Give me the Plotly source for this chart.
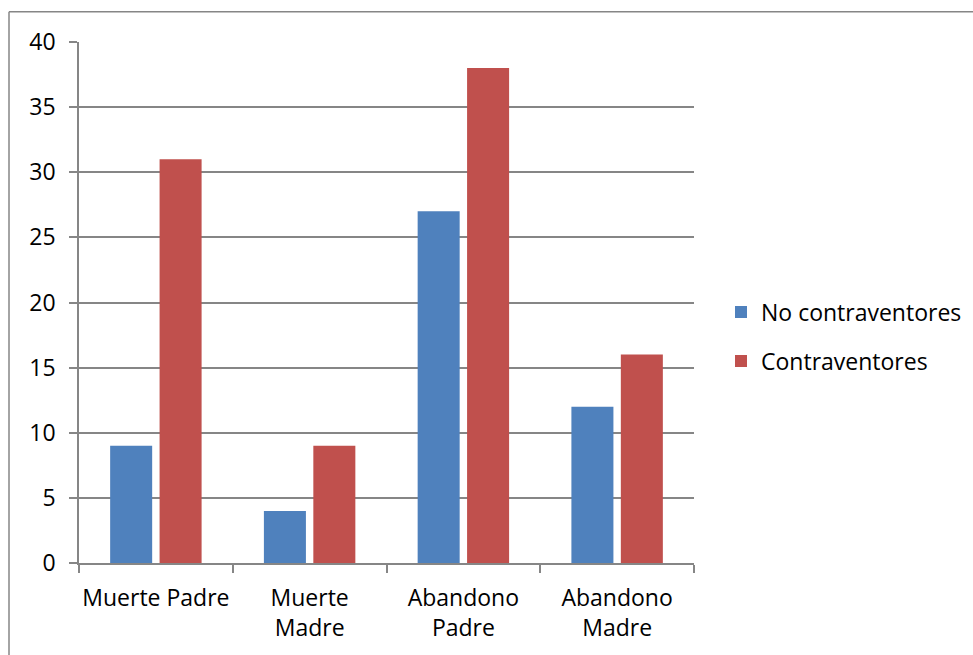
import plotly.graph_objects as go

categories = ["Muerte Padre", "Muerte<br>Madre", "Abandono<br>Padre", "Abandono<br>Madre"]
no_contraventores = [9, 4, 27, 12]
contraventores = [31, 9, 38, 16]

W, H = 973, 655
X0, X1 = 79, 694
Y0, Y1 = 42, 562.7
L, R, T, B = X0, W - X1, Y0, H - Y1
pw, ph = X1 - X0, Y1 - Y0

GRAY = "#868686"
FONT = "Open Sans, Liberation Sans, sans-serif"
FS = 23

fig = go.Figure()
fig.add_trace(go.Bar(x=categories, y=no_contraventores, name="No contraventores",
                     legendgroup="a",
                     marker=dict(color="#4F81BD", line=dict(width=0))))
fig.add_trace(go.Bar(x=categories, y=contraventores, name="Contraventores",
                     legendgroup="b",
                     marker=dict(color="#C0504D", line=dict(width=0))))

fig.update_layout(
    width=W, height=H,
    margin=dict(l=L, r=R, t=T, b=B, pad=0, autoexpand=False),
    paper_bgcolor="white", plot_bgcolor="white",
    font=dict(family=FONT, size=FS, color="black"),
    barmode="group", bargap=0.357, bargroupgap=0.15,
    showlegend=True,
    legend=dict(x=(721 - X0) / pw, y=(Y1 - 336.5) / ph, xanchor="left", yanchor="middle",
                font=dict(size=FS), traceorder="grouped", tracegroupgap=16),
    xaxis=dict(showline=True, linecolor=GRAY, linewidth=1.5, automargin=False, tickangle=0,
               ticks="outside", tickson="boundaries", ticklen=8, tickcolor=GRAY, tickwidth=1.5,
               ticklabelstandoff=14,
               showgrid=False, tickfont=dict(size=FS)),
    yaxis=dict(range=[0, 40], dtick=5, showline=True, linecolor=GRAY, linewidth=1.5,
               automargin=False,
               ticks="outside", ticklen=8, tickcolor=GRAY, tickwidth=1.5,
               ticklabelstandoff=9,
               showgrid=True, gridcolor=GRAY, gridwidth=1.5, zeroline=False,
               tickfont=dict(size=FS)),
    shapes=[
        dict(type="line", xref="paper", yref="paper",
             x0=(9 - X0) / pw, x1=(9 - X0) / pw, y0=(Y1 - 11.7) / ph, y1=(Y1 - 700) / ph,
             line=dict(color=GRAY, width=1.5), layer="below"),
        dict(type="line", xref="paper", yref="paper",
             x0=(9 - X0) / pw, x1=(1000 - X0) / pw, y0=(Y1 - 11.7) / ph, y1=(Y1 - 11.7) / ph,
             line=dict(color=GRAY, width=1.5), layer="below"),
    ],
)

fig.write_html("out.html")
